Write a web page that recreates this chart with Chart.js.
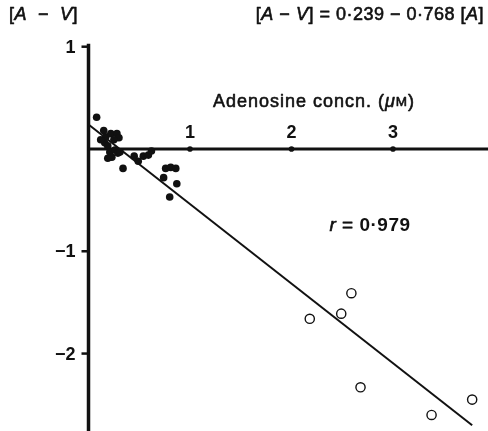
<!DOCTYPE html>
<html>
<head>
<meta charset="utf-8">
<script src="https://cdn.jsdelivr.net/npm/chart.js@4"></script>
<style>
html,body{margin:0;padding:0;background:#fff;}
#wrap{width:488px;height:431px;}
</style>
</head>
<body>
<div id="wrap"><canvas id="c" width="488" height="431"></canvas></div>
<script>
// ---- data ----
const filledX = [0.08,0.15,0.17,0.22,0.28,0.30,0.16,0.19,0.21,0.23,0.26,0.29,0.34,0.45,0.49,0.54,0.59,0.62,0.76,0.81,0.86,0.74,0.87,0.80,0.12,0.25,0.31,0.19];
const filledY = [0.31,0.18,0.12,0.15,0.15,0.11,0.06,0.03,-0.03,-0.08,-0.01,-0.04,-0.19,-0.07,-0.12,-0.07,-0.06,-0.02,-0.19,-0.18,-0.19,-0.28,-0.34,-0.47,0.09,0.09,-0.03,-0.09];
const openX = [2.18,2.49,2.59,2.68,3.38,3.78];
const openY = [-1.66,-1.61,-1.41,-2.33,-2.60,-2.45];
const regX = [0, 3.78];
const regY = [0.239, -2.70];
const xTickValues = [1,2,3];
const xTickLabels = ['1','2','3'];
const yTickValues = [1,-1,-2];
const yTickLabels = ['1','\u22121','\u22122'];

const toPts = (xs, ys) => xs.map((x,i)=>({x:x,y:ys[i]}));
const INK = '#111';
const FAM = '"Liberation Sans", Arial, sans-serif';

function drawRuns(ctx, runs, x, y, align, spacing){
  ctx.letterSpacing = (spacing||0)+'px';
  let total = 0;
  runs.forEach(r=>{ctx.font=r.f; r.w=ctx.measureText(r.t).width; total+=r.w;});
  let cx = align==='center' ? x-total/2 : (align==='right' ? x-total : x);
  ctx.textAlign='left';
  ctx.strokeStyle = INK; ctx.lineWidth = 0.6; ctx.lineJoin='round';
  runs.forEach(r=>{ctx.font=r.f; ctx.fillText(r.t,cx,y); if(r.f.indexOf('bold')<0) ctx.strokeText(r.t,cx,y); cx+=r.w;});
  ctx.letterSpacing = '0px';
}

const axesPlugin = {
  id:'axes',
  beforeDatasetsDraw(chart){
    const ctx = chart.ctx, xs = chart.scales.x, ys = chart.scales.y;
    const x0 = xs.getPixelForValue(0), y0 = ys.getPixelForValue(0);
    ctx.save();
    ctx.strokeStyle = INK; ctx.lineCap='butt';
    // y axis
    ctx.lineWidth = 3.5;
    ctx.beginPath();
    ctx.moveTo(x0, ys.getPixelForValue(1.03));
    ctx.lineTo(x0, chart.chartArea.bottom);
    ctx.stroke();
    // x axis
    ctx.lineWidth = 3;
    ctx.beginPath();
    ctx.moveTo(x0-1.5, y0);
    ctx.lineTo(chart.chartArea.right, y0);
    ctx.stroke();
    // y ticks
    ctx.lineWidth = 2.5;
    yTickValues.forEach(v=>{
      const p = ys.getPixelForValue(v);
      ctx.beginPath(); ctx.moveTo(x0-7,p); ctx.lineTo(x0,p); ctx.stroke();
    });
    // x ticks (small dots)
    ctx.fillStyle = INK;
    xTickValues.forEach(v=>{
      const p = xs.getPixelForValue(v);
      ctx.beginPath(); ctx.arc(p,y0,2.8,0,Math.PI*2); ctx.fill();
    });
    ctx.restore();
  },
  afterDraw(chart){
    const ctx = chart.ctx, xs = chart.scales.x, ys = chart.scales.y;
    const x0 = xs.getPixelForValue(0), y0 = ys.getPixelForValue(0);
    ctx.save();
    ctx.fillStyle = INK;
    ctx.textBaseline = 'middle';
    // y tick labels
    ctx.font = 'bold 18px '+FAM;
    ctx.textAlign = 'right';
    yTickValues.forEach((v,i)=>{
      ctx.fillText(yTickLabels[i], x0-13, ys.getPixelForValue(v)+1);
    });
    // x tick labels
    ctx.textAlign = 'center';
    xTickValues.forEach((v,i)=>{
      ctx.fillText(xTickLabels[i], xs.getPixelForValue(v), y0-16);
    });
    // y axis title
    const N = '18px '+FAM, I = 'italic 18px '+FAM;
    drawRuns(ctx,[{t:'[',f:N},{t:'A',f:I},{t:'  \u2212  ',f:N},{t:'V',f:I},{t:']',f:N}], 9, 15, 'left', 0.5);
    // equation
    drawRuns(ctx,[{t:'[',f:N},{t:'A',f:I},{t:' \u2212 ',f:N},{t:'V',f:I},{t:'] = 0\u00b7239 \u2212 0\u00b7768 [',f:N},{t:'A',f:I},{t:']',f:N}], 484, 15, 'right', 0.5);
    // x axis title
    drawRuns(ctx,[{t:'Adenosine concn. (',f:N},{t:'\u03bc',f:I},{t:'M',f:'13.5px '+FAM},{t:')',f:N}], 314, 102, 'center', 1);
    // r value
    drawRuns(ctx,[{t:'r',f:'italic 19px '+FAM},{t:' = ',f:'19px '+FAM},{t:'0\u00b7979',f:'bold 19px '+FAM}], 370, 226, 'center', 0.5);
    ctx.restore();
  }
};

new Chart(document.getElementById('c'), {
  type:'scatter',
  data:{
    datasets:[
      {type:'line', data:toPts(regX,regY), borderColor:INK, borderWidth:2, pointRadius:0, fill:false, tension:0},
      {data:toPts(filledX,filledY), pointRadius:3.8, pointBackgroundColor:INK, pointBorderColor:INK, pointBorderWidth:0},
      {data:toPts(openX,openY), pointRadius:4.6, pointBackgroundColor:'#fff', pointBorderColor:INK, pointBorderWidth:1.4}
    ]
  },
  options:{
    responsive:false, animation:false,
    layout:{padding:0, autoPadding:false},
    plugins:{legend:{display:false}, tooltip:{enabled:false}},
    scales:{
      x:{type:'linear', min:-0.872, max:3.936, display:false},
      y:{type:'linear', min:-2.757, max:1.4565, display:false}
    }
  },
  plugins:[axesPlugin]
});
</script>
</body>
</html>
